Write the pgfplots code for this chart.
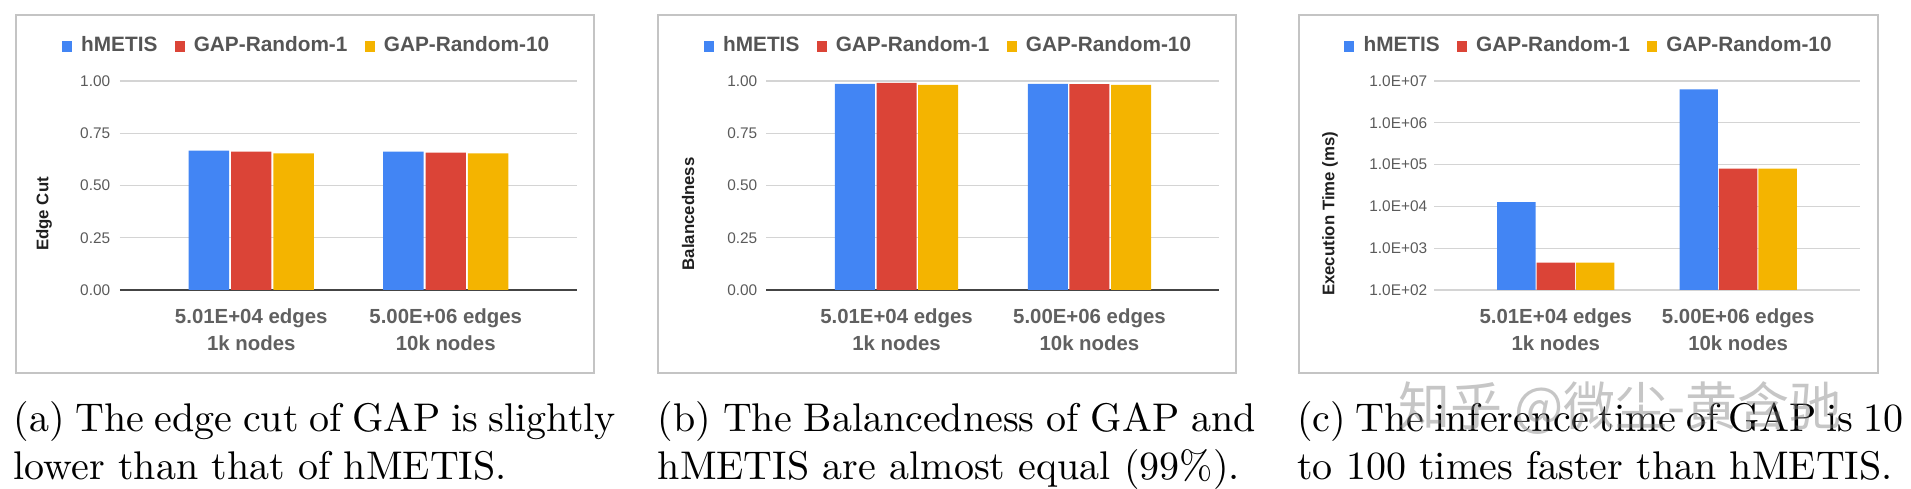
\documentclass[border=0pt]{standalone}
\usepackage{fontspec}
\usepackage{pgfplots}
\pgfplotsset{compat=1.18}
\newfontfamily\chartfont{Liberation Sans}
\newfontfamily\cjkfont{Noto Sans CJK SC}
\definecolor{gblue}{HTML}{4285F4}
\definecolor{gred}{HTML}{DB4437}
\definecolor{gyellow}{HTML}{F4B400}
\definecolor{gridc}{HTML}{D4D4D4}
\definecolor{basec}{HTML}{444444}
\definecolor{boxc}{HTML}{C4C4C4}
\definecolor{tickc}{HTML}{5A5A5A}
\definecolor{xlabc}{HTML}{606060}
\definecolor{legc}{HTML}{555555}

\pgfplotsset{
  gchart/.style={
    scale only axis,
    height=52.25pt,
    axis line style={draw=none},
    major tick length=0pt,
    minor tick length=0pt,
    ymajorgrids,
    major grid style={draw=gridc, line width=0.3pt},
    xtick={0,1},
    xticklabels={{5.01E+04 edges\\1k nodes},{5.00E+06 edges\\10k nodes}},
    xticklabel style={align=center, font=\chartfont\bfseries\fontsize{5.1}{6.75}\selectfont, text=xlabc, inner sep=0pt, yshift=-4.6pt},
    yticklabel style={font=\chartfont\fontsize{3.85}{4.5}\selectfont, text=tickc, inner sep=0pt, anchor=east},
    ylabel style={font=\chartfont\bfseries\fontsize{4.2}{5}\selectfont, text=black!88, anchor=center},
    legend columns=3,
    legend style={draw=none, fill=none, anchor=center,
      font=\chartfont\bfseries\fontsize{5.2}{6}\selectfont, text=legc,
      nodes={inner sep=0pt},
      /tikz/every odd column/.append style={column sep=2.3pt},
      /tikz/every even column/.append style={column sep=4.3pt}},
    /pgf/number format/assume math mode=true,
  },
  sqlegend/.style={
    legend image code/.code={\fill[##1] (0pt,-1.375pt) rectangle (2.5pt,1.375pt);},
  },
  linchart/.style={
    gchart,
    ymin=0, ymax=1,
    ytick={0.25,0.5,0.75,1},
    yticklabels={0.25,0.50,0.75,1.00},
    extra y ticks={0},
    extra y tick labels={0.00},
    extra y tick style={major grid style={draw=basec, line width=0.45pt}},
  },
}

\pgfplotstableread{
x hmetis gap1 gap10
0 0.667 0.662 0.654
1 0.662 0.657 0.654
}\edgecut
\pgfplotstableread{
x hmetis gap1 gap10
0 0.986 0.991 0.981
1 0.986 0.985 0.981
}\balance
\pgfplotstableread{
x hmetis gap1 gap10
0 12700 453 453
1 6300000 80000 80000
}\exectime

\begin{document}
\begin{tikzpicture}
% panel boxes
\draw[boxc, line width=0.35pt] (4pt,-3.75pt) rectangle (148.5pt,-93.25pt);
\draw[boxc, line width=0.35pt] (164.5pt,-3.75pt) rectangle (309pt,-93.25pt);
\draw[boxc, line width=0.35pt] (324.75pt,-3.75pt) rectangle (469.5pt,-93.25pt);

% (a) Edge cut
\begin{axis}[linchart,
  at={(30pt,-72.5pt)}, anchor=south west,
  width=114.25pt,
  xmin=-0.675, xmax=1.675,
  ybar=0.5pt, bar width=10.1pt,
  sqlegend,
  yticklabel style={xshift=-2.25pt},
  ylabel={Edge Cut},
  ylabel style={at={(axis description cs:-0.166,0.364)}},
  legend style={at={(axis description cs:0.406,1.163)}},
]
\addplot[fill=gblue, draw=none] table[x=x, y=hmetis] {\edgecut};
\addplot[fill=gred, draw=none] table[x=x, y=gap1] {\edgecut};
\addplot[fill=gyellow, draw=none] table[x=x, y=gap10] {\edgecut};
\legend{hMETIS, GAP-Random-1, GAP-Random-10}
\end{axis}

% (b) Balancedness
\begin{axis}[linchart,
  at={(191.625pt,-72.5pt)}, anchor=south west,
  width=113.25pt,
  xmin=-0.674, xmax=1.674,
  ybar=0.4pt, bar width=10pt,
  sqlegend,
  yticklabel style={xshift=-2.1pt},
  ylabel={Balancedness},
  ylabel style={at={(axis description cs:-0.173,0.364)}},
  legend style={at={(axis description cs:0.3996,1.163)}},
]
\addplot[fill=gblue, draw=none] table[x=x, y=hmetis] {\balance};
\addplot[fill=gred, draw=none] table[x=x, y=gap1] {\balance};
\addplot[fill=gyellow, draw=none] table[x=x, y=gap10] {\balance};
\legend{hMETIS, GAP-Random-1, GAP-Random-10}
\end{axis}

% (c) Execution time
\begin{axis}[gchart,
  at={(358.5pt,-72.5pt)}, anchor=south west,
  width=106.5pt,
  xmin=-0.668, xmax=1.668,
  ymode=log, ymin=100, ymax=1e7, log origin=infty,
  ytick={1e2,1e3,1e4,1e5,1e6,1e7},
  yticklabels={1.0E+02,1.0E+03,1.0E+04,1.0E+05,1.0E+06,1.0E+07},
  ybar=0.25pt, bar width=9.6pt,
  sqlegend,
  yticklabel style={xshift=-1.5pt},
  ylabel={Execution Time (ms)},
  ylabel style={at={(axis description cs:-0.244,0.364)}},
  legend style={at={(axis description cs:0.3615,1.163)}},
]
\addplot[fill=gblue, draw=none] table[x=x, y=hmetis] {\exectime};
\addplot[fill=gred, draw=none] table[x=x, y=gap1] {\exectime};
\addplot[fill=gyellow, draw=none] table[x=x, y=gap10] {\exectime};
\legend{hMETIS, GAP-Random-1, GAP-Random-10}
\end{axis}

% captions
\begin{scope}[every node/.style={inner sep=0pt, anchor=base west, font=\fontsize{10}{12}\selectfont}]
\node at (3.25pt,-108pt) {\makebox[150.5pt][s]{(a) The edge cut of GAP is slightly}};
\node at (3.25pt,-120pt) {lower than that of hMETIS.};
\node at (164.25pt,-108pt) {\makebox[149.5pt][s]{(b) The Balancedness of GAP and}};
\node at (164.25pt,-120pt) {hMETIS are almost equal (99\%).};
\node at (324.1pt,-108pt) {\makebox[151.5pt][s]{(c) The inference time of GAP is 10}};
\node at (324.1pt,-120pt) {to 100 times faster than hMETIS.};
\end{scope}
% watermark
\node[font=\cjkfont\fontsize{13}{13}\selectfont, text=gray, opacity=0.45, inner sep=0pt] at (405pt,-102pt) {知乎 @微尘-黄含驰};

\pgfresetboundingbox
\path[use as bounding box] (0,0) rectangle (477.75pt,-122.25pt);
\end{tikzpicture}
\end{document}
